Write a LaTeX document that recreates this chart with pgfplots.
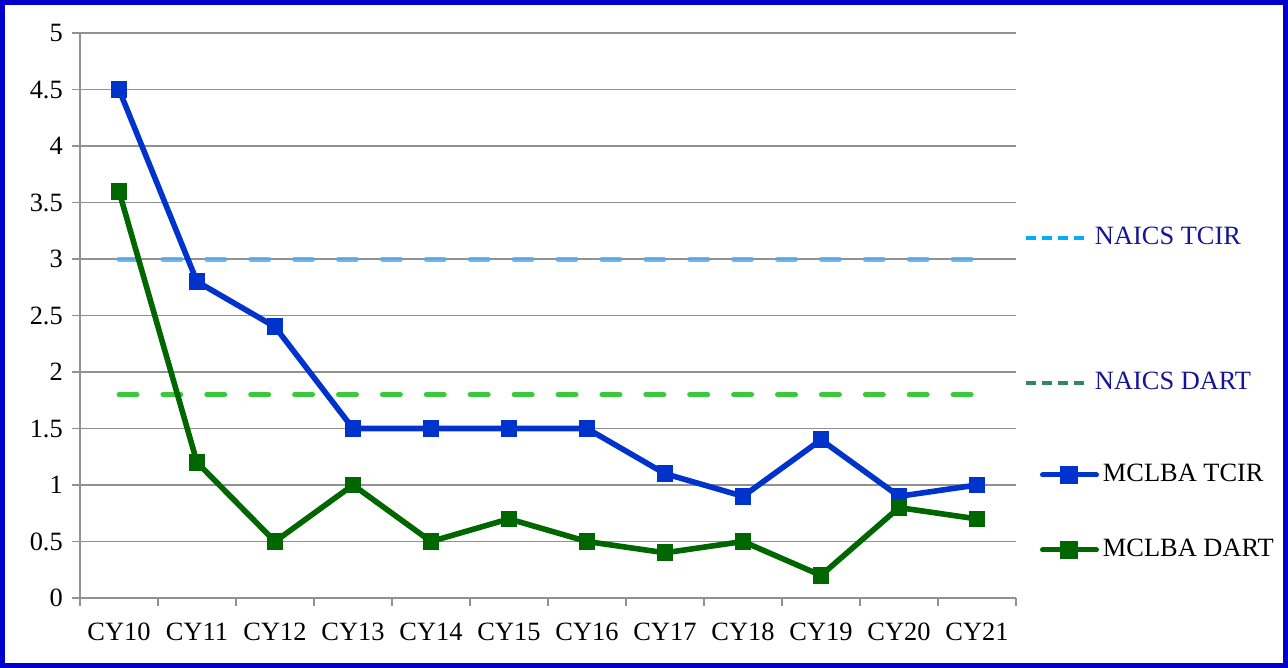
\documentclass[border=0pt]{standalone}
\usepackage{pgfplots}
\pgfplotsset{compat=1.18}
\usepackage{fontspec}
\setmainfont{Liberation Serif}
\definecolor{frameblue}{RGB}{0,0,204}
\definecolor{tcirblue}{RGB}{0,51,204}
\definecolor{dartgreen}{RGB}{0,102,0}
\definecolor{naicsblue}{RGB}{85,170,240}
\definecolor{naicsgreen}{RGB}{60,200,60}
\definecolor{legcyan}{RGB}{0,176,240}
\definecolor{legteal}{RGB}{46,139,87}
\definecolor{navytext}{RGB}{20,20,150}
\definecolor{gridgray}{RGB}{145,145,145}
\pgfplotsset{
  legax/.style={at={(40pt,35pt)}, anchor=south west, scale only axis,
    width=468pt, height=282.5pt, hide axis, xmin=0, xmax=1, ymin=0, ymax=1,
    legend style={draw=none, fill=none, anchor=west, inner sep=0pt, outer sep=0pt,
      font=\fontsize{13.2}{15}\selectfont}},
  naicsleg/.style={legend image code/.code={\draw[##1] (0pt,0pt) -- (31.5pt,0pt);}},
  mclbaleg/.style={legend image code/.code={\draw[mark repeat=2,mark phase=2,##1] plot coordinates {(0pt,0pt) (13.5pt,0pt) (27pt,0pt)};}},
}
\pgfplotstableread{
x tcir dart
0 4.5 3.6
1 2.8 1.2
2 2.4 0.5
3 1.5 1.0
4 1.5 0.5
5 1.5 0.7
6 1.5 0.5
7 1.1 0.4
8 0.9 0.5
9 1.4 0.2
10 0.9 0.8
11 1.0 0.7
}\mclba
\begin{document}
\fontsize{13.2}{15}\selectfont
\begin{tikzpicture}
\useasboundingbox (0,0) rectangle (644pt,334pt);
\draw[frameblue, line width=2.5pt] (1.25pt,1.25pt) rectangle (642.75pt,332.75pt);
\begin{axis}[at={(40pt,35pt)}, anchor=south west, scale only axis,
  width=468pt, height=282.5pt,
  xmin=-0.5, xmax=11.5, ymin=0, ymax=5,
  axis lines*=left, axis line style={gridgray, line width=0.8pt},
  tick align=outside, tick style={gridgray, line width=0.8pt},
  major tick length=4pt, minor tick length=4pt,
  xtick={0,1,...,11},
  xticklabels={CY10,CY11,CY12,CY13,CY14,CY15,CY16,CY17,CY18,CY19,CY20,CY21},
  major x tick style={draw=none},
  minor xtick={-0.5,0.5,...,11.5},
  xticklabel style={yshift=-4pt},
  ytick={0,0.5,...,5},
  ymajorgrids, grid style={gridgray, line width=0.8pt},
  /pgf/number format/assume math mode=true,
  tick label style={font=\fontsize{13.2}{15}\selectfont},
  clip=false,
]
\addplot[naicsblue, opacity=0.85, line width=2.5pt, line cap=round, dash pattern=on 9pt off 12.95pt] coordinates {(0,3) (11,3)};
\addplot[naicsgreen, line width=2.5pt, line cap=round, dash pattern=on 9pt off 12.95pt] coordinates {(0,1.8) (11,1.8)};
\addplot[tcirblue, line width=2.8pt, mark=square*, mark size=3.2pt, mark options={solid, line width=2pt}] table[x=x, y=tcir] {\mclba};
\addplot[dartgreen, line width=2.8pt, mark=square*, mark size=3.2pt, mark options={solid, line width=2pt}] table[x=x, y=dart] {\mclba};
\end{axis}
\begin{axis}[legax, naicsleg, legend style={at={(1.0085,0.637)}}]
\addlegendimage{legcyan, line width=2pt, dash pattern=on 5pt off 3pt}
\addlegendentry{\textcolor{navytext}{NAICS TCIR}}
\end{axis}
\begin{axis}[legax, naicsleg, legend style={at={(1.0085,0.3805)}}]
\addlegendimage{legteal, line width=2pt, dash pattern=on 5pt off 3pt}
\addlegendentry{\textcolor{navytext}{NAICS DART}}
\end{axis}
\begin{axis}[legax, mclbaleg, legend style={at={(1.0256,0.2177)}}]
\addlegendimage{tcirblue, line width=2.5pt, line cap=round, mark=square*, mark size=3.5pt, mark options={line width=2pt}}
\addlegendentry{MCLBA TCIR}
\end{axis}
\begin{axis}[legax, mclbaleg, legend style={at={(1.0256,0.085)}}]
\addlegendimage{dartgreen, line width=2.5pt, line cap=round, mark=square*, mark size=3.5pt, mark options={line width=2pt}}
\addlegendentry{MCLBA DART}
\end{axis}
\end{tikzpicture}
\end{document}
